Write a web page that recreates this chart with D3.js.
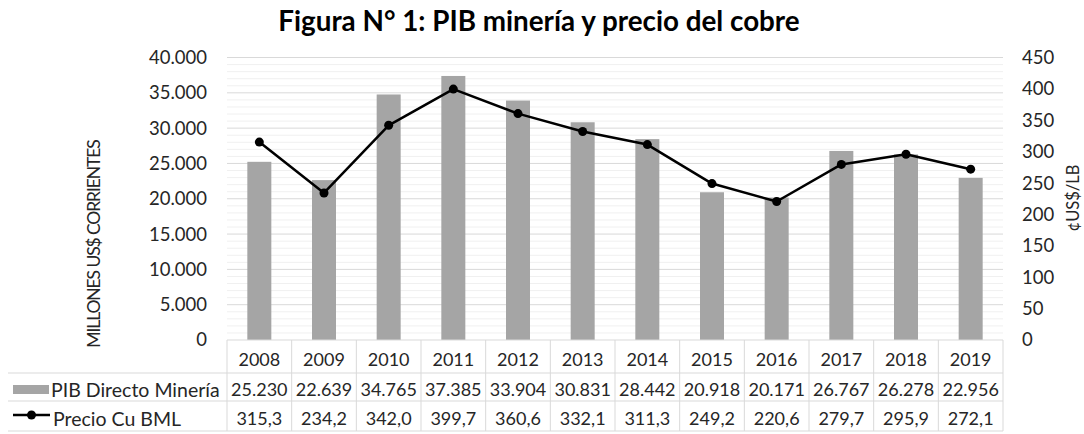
<!DOCTYPE html>
<html><head><meta charset="utf-8">
<script src="https://cdn.jsdelivr.net/npm/d3@7"></script>
<style>
html,body{margin:0;padding:0;background:#fff;}
svg{display:block;font-family:Lato,"Open Sans",sans-serif;}
</style></head>
<body><svg id="c" width="1084" height="434"></svg>
<script>
const years = ["2008","2009","2010","2011","2012","2013","2014","2015","2016","2017","2018","2019"];
const pib = [25230,22639,34765,37385,33904,30831,28442,20918,20171,26767,26278,22956];
const precio = [315.3,234.2,342.0,399.7,360.6,332.1,311.3,249.2,220.6,279.7,295.9,272.1];
const pibLabels = ["25.230","22.639","34.765","37.385","33.904","30.831","28.442","20.918","20.171","26.767","26.278","22.956"];
const precioLabels = ["315,3","234,2","342,0","399,7","360,6","332,1","311,3","249,2","220,6","279,7","295,9","272,1"];
const leftTicks = [0,5000,10000,15000,20000,25000,30000,35000,40000];
const rightTicks = [0,50,100,150,200,250,300,350,400,450];
const title = "Figura N° 1: PIB minería y precio del cobre";
const leftTitle = "MILLONES US$ CORRIENTES";
const rightTitle = "¢US$/LB";
const seriesNames = ["PIB Directo Minería","Precio Cu BML"];

const svg = d3.select("#c");
const L = 227, R = 1003, Y0 = 340, YT = 57.5;
const x = d3.scaleBand().domain(years).range([L, R]).padding(0);
const yL = d3.scaleLinear().domain([0,40000]).range([Y0, YT]);
const yR = d3.scaleLinear().domain([0,450]).range([Y0, YT]);
const fmtL = d => d3.format(",")(d).replace(/,/g,".");
const FS = 18.5, FN = 18, FL = 19.5;
const TXT = "#262626";

// gridlines
const g = svg.append("g");
g.selectAll("line.minor").data(d3.range(1000,40000,1000).filter(v=>v%5000!==0)).join("line")
  .attr("x1",L).attr("x2",R).attr("y1",d=>yL(d)).attr("y2",d=>yL(d))
  .attr("stroke","#f0f0f0").attr("stroke-width",1);
g.selectAll("line.major").data(leftTicks.filter(v=>v>0)).join("line")
  .attr("x1",L).attr("x2",R).attr("y1",d=>yL(d)).attr("y2",d=>yL(d))
  .attr("stroke","#d9d9d9").attr("stroke-width",1);

// bars
const bw = 24;
svg.append("g").selectAll("rect").data(years).join("rect")
  .attr("x",(d)=>x(d)+x.bandwidth()/2-bw/2)
  .attr("width",bw)
  .attr("y",(d,i)=>yL(pib[i]))
  .attr("height",(d,i)=>Y0-yL(pib[i]))
  .attr("fill","#a5a5a5");

// line
const line = d3.line().x((d,i)=>x(years[i])+x.bandwidth()/2).y(d=>yR(d));
svg.append("path").datum(precio).attr("d",line).attr("fill","none").attr("stroke","#000").attr("stroke-width",2.5).attr("stroke-linejoin","round");
svg.append("g").selectAll("circle").data(precio).join("circle")
  .attr("cx",(d,i)=>x(years[i])+x.bandwidth()/2).attr("cy",d=>yR(d)).attr("r",4.5).attr("fill","#000");

// left axis labels
svg.append("g").selectAll("text").data(leftTicks).join("text")
  .attr("x",207).attr("y",d=>yL(d)).attr("dy","0.35em").attr("text-anchor","end")
  .attr("font-size",FS).attr("fill",TXT).text(fmtL);
// right axis labels
svg.append("g").selectAll("text").data(rightTicks).join("text")
  .attr("x",1022).attr("y",d=>yR(d)).attr("dy","0.35em").attr("text-anchor","start")
  .attr("font-size",FS).attr("fill",TXT).text(d=>d);

// titles
svg.append("text").attr("x",539).attr("y",31).attr("text-anchor","middle")
  .attr("font-size",27.8).attr("font-weight","bold").attr("fill","#000").text(title);
svg.append("text").attr("transform","translate(100,244) rotate(-90)").attr("text-anchor","middle")
  .attr("font-size",17.5).attr("letter-spacing",-1.1).attr("fill",TXT).text(leftTitle);
svg.append("text").attr("transform","translate(1079,198) rotate(-90)").attr("text-anchor","middle")
  .attr("font-size",16.5).attr("fill",TXT).text(rightTitle);

// data table
const rowY = [340,373,401,431];
const tc = "#d9d9d9";
const tb = svg.append("g");
tb.append("line").attr("x1",L).attr("x2",R).attr("y1",rowY[0]).attr("y2",rowY[0]).attr("stroke",tc);
[1,2,3].forEach(k=>tb.append("line").attr("x1",8).attr("x2",R).attr("y1",rowY[k]).attr("y2",rowY[k]).attr("stroke",tc));
tb.selectAll("line.v").data(years.concat(["end"])).join("line")
  .attr("x1",(d,i)=>i<years.length?x(d):R).attr("x2",(d,i)=>i<years.length?x(d):R)
  .attr("y1",rowY[0]).attr("y2",rowY[3]).attr("stroke",tc);
const cx = d=>x(d)+x.bandwidth()/2;
const off = 3;
tb.selectAll("text.y").data(years).join("text").attr("x",cx).attr("y",(rowY[0]+rowY[1])/2+off)
  .attr("dy","0.35em").attr("text-anchor","middle").attr("font-size",FN).attr("fill",TXT).text(d=>d);
tb.selectAll("text.p").data(pibLabels).join("text").attr("x",(d,i)=>cx(years[i])).attr("y",(rowY[1]+rowY[2])/2+off)
  .attr("dy","0.35em").attr("text-anchor","middle").attr("font-size",FN).attr("fill",TXT).text(d=>d);
tb.selectAll("text.c").data(precioLabels).join("text").attr("x",(d,i)=>cx(years[i])).attr("y",(rowY[2]+rowY[3])/2+off)
  .attr("dy","0.35em").attr("text-anchor","middle").attr("font-size",FN).attr("fill",TXT).text(d=>d);
// legend keys
tb.append("rect").attr("x",13).attr("y",385).attr("width",36).attr("height",9).attr("fill","#a5a5a5");
tb.append("line").attr("x1",13).attr("x2",50).attr("y1",415).attr("y2",415).attr("stroke","#000").attr("stroke-width",2.5);
tb.append("circle").attr("cx",31.5).attr("cy",415).attr("r",4.5).attr("fill","#000");
tb.append("text").attr("x",51).attr("y",(rowY[1]+rowY[2])/2+off).attr("dy","0.35em").attr("font-size",FL).attr("fill",TXT).text(seriesNames[0]);
tb.append("text").attr("x",53).attr("y",(rowY[2]+rowY[3])/2+off).attr("dy","0.35em").attr("font-size",FL).attr("fill",TXT).text(seriesNames[1]);
</script></body></html>
